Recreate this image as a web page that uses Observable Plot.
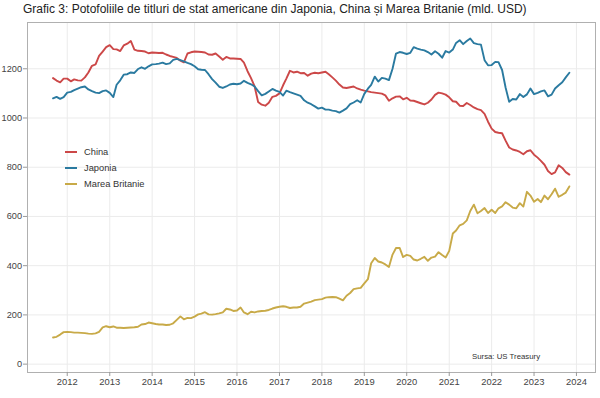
<!DOCTYPE html>
<html>
<head>
<meta charset="utf-8">
<script src="https://cdn.jsdelivr.net/npm/d3@7"></script>
<script src="https://cdn.jsdelivr.net/npm/@observablehq/plot@0.6"></script>
<style>
  body { margin:0; background:#fff; font-family:"Liberation Sans", Arial, sans-serif; }
  #wrap { position:relative; width:600px; height:398px; }
  #title { height:20px; box-sizing:border-box; padding:3px 0 0 23px; font-size:12px; line-height:13px; color:#222; white-space:nowrap; }
  #legend { position:absolute; left:65px; top:144px; font-size:9.3px; color:#333; }
  #legend .row { height:16px; display:flex; align-items:center; }
  #legend .sw { width:12px; height:2px; margin-right:7px; }
  #source { position:absolute; left:472px; top:352px; font-size:7.8px; color:#333; }
  #chart svg { overflow: visible; }
</style>
</head>
<body>
<div id="wrap">
  <div id="title">Grafic 3: Potofoliile de titluri de stat americane din Japonia, China și Marea Britanie (mld. USD)</div>
  <div id="chart"></div>
  <div id="legend"></div>
  <div id="source">Sursa: US Treasury</div>
</div>
<script>
const seriesNames = ["China", "Japonia", "Marea Britanie"];
const seriesColors = ["#cc4848", "#2a7aa0", "#c8aa48"];
const startYear = 2011, startMonth = 8; // September 2011 (0-based month)

const china = [
  1162,1152,1145,1160,1160,1149,1157,1153,1152,1165,
  1185,1212,1218,1252,1270,1288,1296,1280,1279,1272,
  1295,1302,1313,1278,1273,1272,1270,1263,1266,1265,
  1264,1265,1258,1252,1248,1244,1233,1226,1262,1267,
  1270,1269,1268,1266,1258,1257,1262,1250,1237,1248,
  1242,1242,1241,1240,1225,1190,1162,1128,1065,1054,
  1050,1062,1086,1090,1100,1133,1160,1192,1185,1188,
  1182,1183,1172,1180,1184,1182,1185,1188,1178,1165,
  1152,1136,1124,1122,1125,1128,1120,1115,1111,1108,
  1105,1103,1101,1099,1092,1070,1080,1087,1088,1076,
  1082,1071,1070,1065,1060,1055,1062,1075,1094,1103,
  1100,1095,1084,1068,1066,1050,1049,1061,1053,1043,
  1036,1032,1017,985,957,943,940,938,908,880,
  872,868,862,853,865,869,851,839,826,810,
  785,772,779,808,797,780,770
];
const japan = [
  1080,1086,1078,1085,1103,1106,1113,1119,1125,1128,
  1116,1109,1103,1101,1109,1112,1102,1085,1135,1153,
  1176,1178,1185,1183,1199,1206,1200,1210,1218,1219,
  1221,1225,1219,1222,1236,1240,1235,1230,1224,1219,
  1210,1198,1196,1195,1178,1158,1144,1127,1122,1128,
  1136,1139,1137,1140,1151,1143,1137,1128,1109,1092,
  1098,1108,1118,1111,1106,1091,1111,1105,1100,1095,
  1090,1072,1062,1056,1047,1038,1042,1034,1034,1030,
  1028,1022,1030,1039,1056,1063,1072,1063,1098,1119,
  1135,1168,1148,1163,1160,1154,1200,1262,1268,1265,
  1260,1265,1288,1282,1278,1275,1268,1258,1271,1261,
  1245,1272,1266,1278,1305,1316,1300,1313,1323,1304,
  1300,1298,1235,1214,1215,1228,1227,1195,1124,1066,
  1077,1075,1097,1085,1096,1120,1097,1102,1108,1112,
  1088,1095,1120,1133,1145,1165,1184
];
const uk = [
  108,111,120,130,131,130,128,128,127,126,
  124,123,125,131,149,154,150,153,148,148,
  147,148,149,150,152,161,163,169,166,163,
  161,161,159,160,166,180,194,182,188,187,
  193,202,205,211,202,201,203,206,210,225,
  222,216,218,230,210,203,213,210,214,216,
  217,220,226,230,233,235,233,228,230,230,
  233,246,250,254,260,262,264,270,272,273,
  272,266,259,278,289,305,308,310,328,345,
  410,431,417,413,405,395,445,472,472,435,
  444,440,425,421,428,436,420,433,437,455,
  443,433,460,531,543,564,570,584,622,648,
  613,622,634,614,627,614,633,641,658,648,
  636,633,654,640,700,685,660,671,658,685,
  670,690,713,680,688,697,722
];
const yTicks = [0, 200, 400, 600, 800, 1000, 1200];
const xTickYears = [2012,2013,2014,2015,2016,2017,2018,2019,2020,2021,2022,2023,2024];

const allSeries = [china, japan, uk];
const rows = [];
allSeries.forEach((vals, si) => {
  vals.forEach((v, i) => {
    rows.push({ date: new Date(Date.UTC(startYear, startMonth + i, 1)), value: v, series: seriesNames[si] });
  });
});

const xTicks = xTickYears.map(y => new Date(Date.UTC(y, 0, 1)));

const chart = Plot.plot({
  width: 600,
  height: 378,
  marginLeft: 27,
  marginRight: 5,
  marginTop: 2,
  marginBottom: 26,
  style: { fontFamily: "Liberation Sans, Arial, sans-serif", background: "transparent", overflow: "visible" },
  x: { type: "utc", domain: [new Date(Date.UTC(2011, 0, 24)), new Date(Date.UTC(2024, 5, 13))] },
  y: { domain: [-34, 1388] },
  color: { domain: seriesNames, range: seriesColors },
  marks: [
    Plot.gridX(xTicks, { stroke: "#ebebeb", strokeOpacity: 1 }),
    Plot.gridY(yTicks, { stroke: "#ebebeb", strokeOpacity: 1 }),
    Plot.line(rows, { x: "date", y: "value", z: "series", stroke: "series", strokeWidth: 1.9, strokeLinejoin: "round" }),
    Plot.frame({ stroke: "#b0b0b0" }),
    Plot.axisY(yTicks, { tickSize: 4, tickPadding: 1.5, fontSize: 9.2, color: "#444", stroke: "#999", tickFormat: d => String(d), label: null }),
    Plot.axisX(xTicks, { tickSize: 4, tickPadding: 2, fontSize: 9.4, color: "#444", stroke: "#999", tickFormat: d3.utcFormat("%Y"), label: null })
  ]
});
document.getElementById("chart").appendChild(chart);

const legend = document.getElementById("legend");
seriesNames.forEach((name, i) => {
  const row = document.createElement("div");
  row.className = "row";
  const sw = document.createElement("span");
  sw.className = "sw";
  sw.style.background = seriesColors[i];
  const t = document.createElement("span");
  t.textContent = name;
  row.appendChild(sw);
  row.appendChild(t);
  legend.appendChild(row);
});
</script>
</body>
</html>
